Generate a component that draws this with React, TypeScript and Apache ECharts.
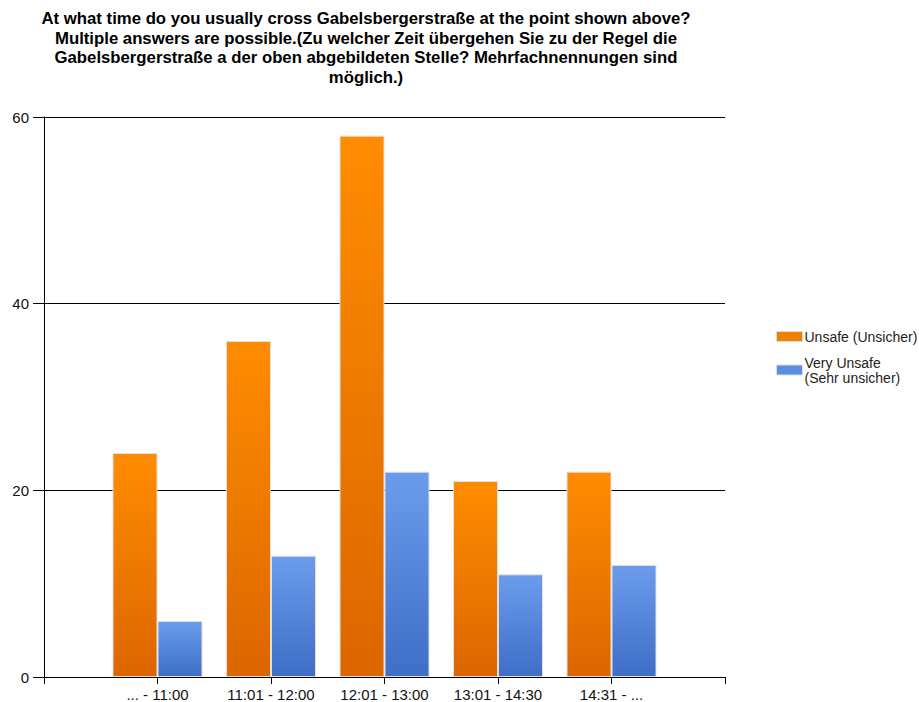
import React, { useEffect, useRef } from "react";
import * as echarts from "echarts";

const titleLines = [
  "At what time do you usually cross Gabelsbergerstraße at the point shown above?",
  "Multiple answers are possible.(Zu welcher Zeit übergehen Sie zu der Regel die",
  "Gabelsbergerstraße a der oben abgebildeten Stelle? Mehrfachnennungen sind",
  "möglich.)",
];
const categories = ["", "... - 11:00", "11:01 - 12:00", "12:01 - 13:00", "13:01 - 14:30", "14:31 - ...", ""];
const unsafe = [null, 24, 36, 58, 21, 22, null];
const veryUnsafe = [null, 6, 13, 22, 11, 12, null];
const seriesNames = ["Unsafe (Unsicher)", "Very Unsafe\n(Sehr unsicher)"];
const yTicks = { min: 0, max: 60, interval: 20 };

export default function App() {
  const ref = useRef<HTMLDivElement>(null);
  useEffect(() => {
    if (!ref.current) return;
    const chart = echarts.init(ref.current, null, { renderer: "svg" });
    const grad = (a: string, b: string) =>
      new echarts.graphic.LinearGradient(0, 0, 0, 1, [
        { offset: 0, color: a },
        { offset: 1, color: b },
      ]);
    chart.setOption({
      animation: false,
      backgroundColor: "#fff",
      textStyle: { fontFamily: "Liberation Sans, Arial, sans-serif" },
      graphic: [
        {
          type: "text",
          x: 366,
          y: 9,
          scaleX: 0.985,
          style: {
            text: titleLines.join("\n"),
            font: "bold 17px 'Liberation Sans', Arial, sans-serif",
            fill: "#000",
            align: "center",
            lineHeight: 19.5,
          },
        },
      ],
      legend: {
        orient: "vertical",
        left: 771,
        top: 324,
        itemWidth: 26,
        itemHeight: 10,
        itemGap: 11,
        icon: "rect",
        textStyle: { fontSize: 14, color: "#222", lineHeight: 15, padding: [0, 0, 0, -3] },
        data: [
          { name: seriesNames[0], itemStyle: { color: "#f08000", borderColor: "#ddd", borderWidth: 1 } },
          { name: seriesNames[1], itemStyle: { color: "#5b8ee0", borderColor: "#ddd", borderWidth: 1 } },
        ],
      },
      grid: { left: 44, right: 194, top: 117, bottom: 24, containLabel: false },
      xAxis: {
        type: "category",
        data: categories,
        boundaryGap: false,
        axisLine: { show: true, lineStyle: { color: "#000", width: 1 } },
        axisTick: { show: true, length: 7, lineStyle: { color: "#000" } },
        axisLabel: { interval: 0, fontSize: 15, color: "#111", margin: 10 },
      },
      yAxis: {
        type: "value",
        min: yTicks.min,
        max: yTicks.max,
        interval: yTicks.interval,
        axisLine: { show: true, lineStyle: { color: "#000", width: 1 } },
        axisTick: { show: true, length: 11, lineStyle: { color: "#000" } },
        axisLabel: { fontSize: 15, color: "#111", margin: 15 },
        splitLine: { show: true, lineStyle: { color: "#000", width: 1 } },
      },
      series: [
        {
          name: seriesNames[0],
          type: "bar",
          data: unsafe,
          barWidth: 45,
          barGap: "0%",
          itemStyle: { color: grad("#ff8c00", "#dc6600"), borderColor: "#e0e0e0", borderWidth: 1 },
        },
        {
          name: seriesNames[1],
          type: "bar",
          data: veryUnsafe,
          barWidth: 45,
          barGap: "0%",
          itemStyle: { color: grad("#6b9cec", "#3e6ec6"), borderColor: "#e0e0e0", borderWidth: 1 },
        },
      ],
    });
    return () => chart.dispose();
  }, []);
  return (
    <div
      ref={ref}
      style={{ position: "fixed", left: 0, top: 0, width: 919, height: 702 }}
    />
  );
}
